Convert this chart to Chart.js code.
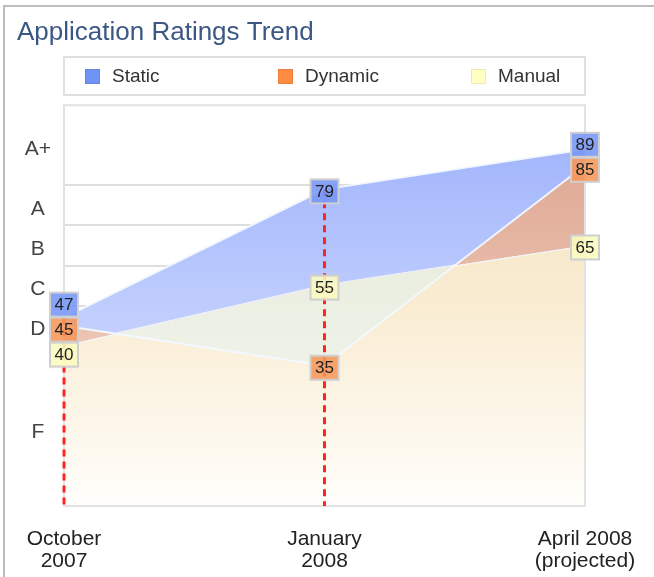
<!DOCTYPE html>
<html>
<head>
<meta charset="utf-8">
<script src="https://cdn.jsdelivr.net/npm/chart.js@4.4.0/dist/chart.umd.min.js"></script>
<style>
  html, body { margin: 0; padding: 0; background: #fff; }
  #wrap { width: 654px; height: 577px; }
</style>
</head>
<body>
<div id="wrap"><canvas id="ratings" width="654" height="577"></canvas></div>
<script>
// --- data ---
const PERIODS = [['October', '2007'], ['January', '2008'], ['April 2008', '(projected)']];
const ACTUAL = [true, true, false];          // projected column gets no drop line
const SERIES = ['Static', 'Dynamic', 'Manual'];
const STATIC_SCORES = [47, 79, 89];
const DYNAMIC_SCORES = [45, 35, 85];
const MANUAL_SCORES = [40, 55, 65];
const GRADE_LABELS = ['F', 'D', 'C', 'B', 'A', 'A+'];
const GRADE_LABEL_AT = [18.5, 44, 54, 64, 74, 89];
const GRADE_BOUNDS = [40, 50, 60, 70, 80];

const LEGEND_COLORS = ['#6f92f6', '#fe8b41', '#ffffc2'];
const BADGE_COLORS = ['rgba(118,150,247,0.88)', 'rgba(246,150,90,0.88)', 'rgba(251,251,190,0.88)'];
const FONT = '"Liberation Sans", Arial, sans-serif';

Chart.defaults.font.family = FONT;

const lineStyle = { borderColor: 'rgba(242,249,255,0.95)', borderWidth: 2, pointRadius: 0, tension: 0 };

// legend, plot frame, drop lines and value badges
const overlays = {
  id: 'overlays',
  beforeDraw(chart) {
    const c = chart.ctx;
    c.save();
    c.strokeStyle = '#bdbdbd';
    c.lineWidth = 2;
    c.beginPath();
    c.moveTo(4, chart.height);
    c.lineTo(4, 6);
    c.lineTo(chart.width, 6);
    c.stroke();
    c.restore();
  },
  afterDatasetsDraw(chart) {
    const a = chart.chartArea, c = chart.ctx;
    c.save();
    c.strokeStyle = '#e2e2e2';
    c.lineWidth = 2;
    c.strokeRect(a.left, a.top, a.right - a.left, a.bottom - a.top);

    // red drop lines at measured periods
    c.setLineDash([7, 5]);
    c.strokeStyle = '#ff2424';
    c.lineWidth = 3;
    ACTUAL.forEach((on, i) => {
      if (!on) return;
      const pts = chart.data.datasets.map((d, k) => chart.getDatasetMeta(k).data[i]);
      const top = Math.min(...pts.map(p => p.y));
      c.beginPath();
      c.moveTo(pts[0].x, top);
      c.lineTo(pts[0].x, a.bottom);
      c.stroke();
    });
    c.setLineDash([]);

    // value badges, stacked when they would overlap
    const GAP = 25;
    PERIODS.forEach((_, i) => {
      const items = chart.data.datasets.map((d, k) => {
        const p = chart.getDatasetMeta(k).data[i];
        return { k, v: d.data[i], x: p.x, y: p.y + 2 };
      }).sort((p, q) => p.y - q.y);
      let groups = items.map(it => ({ members: [it], center: it.y }));
      let merged = true;
      while (merged) {
        merged = false;
        for (let g = 0; g < groups.length - 1; g++) {
          const A = groups[g], B = groups[g + 1];
          const aEnd = A.center + (A.members.length - 1) * GAP / 2;
          const bStart = B.center - (B.members.length - 1) * GAP / 2;
          if (bStart - aEnd < GAP) {
            const members = A.members.concat(B.members);
            const center = members.reduce((s, m) => s + m.y, 0) / members.length - 2;
            groups.splice(g, 2, { members, center });
            merged = true;
            break;
          }
        }
      }
      groups.forEach(G => G.members.forEach((m, j) => {
        const cy = G.center + (j - (G.members.length - 1) / 2) * GAP;
        c.fillStyle = BADGE_COLORS[m.k];
        c.fillRect(m.x - 14, cy - 12, 28, 24);
        c.strokeStyle = '#cfcfcf';
        c.lineWidth = 2;
        c.strokeRect(m.x - 14, cy - 12, 28, 24);
        c.fillStyle = '#222';
        c.font = '17px ' + FONT;
        c.textAlign = 'center';
        c.textBaseline = 'middle';
        c.fillText(String(m.v), m.x, cy + 1);
      }));
    });
    c.restore();
  },
  afterDraw(chart) {
    const a = chart.chartArea, c = chart.ctx;
    c.save();
    c.strokeStyle = '#e0e0e0';
    c.lineWidth = 2;
    c.strokeRect(a.left, 57, a.right - a.left, 38);
    c.font = '19px ' + FONT;
    c.textBaseline = 'middle';
    c.textAlign = 'left';
    chart.data.datasets.forEach((d, k) => {
      const x = 85 + k * 193;
      c.fillStyle = LEGEND_COLORS[k];
      c.fillRect(x, 69, 15, 15);
      c.strokeStyle = 'rgba(0,0,0,0.08)';
      c.lineWidth = 1;
      c.strokeRect(x + 0.5, 69.5, 14, 14);
      c.fillStyle = '#333';
      c.fillText(d.label, x + 27, 77);
    });
    c.restore();
  }
};

const chart = new Chart(document.getElementById('ratings'), {
  type: 'line',
  data: {
    labels: PERIODS,
    datasets: [
      { label: SERIES[0], data: STATIC_SCORES, order: 3, fill: 'origin', backgroundColor: '#a9bafc', ...lineStyle },
      { label: SERIES[1], data: DYNAMIC_SCORES, order: 1, fill: { target: 2, above: '#e2ae98', below: '#e9eee0' }, backgroundColor: '#e2ae98', ...lineStyle },
      { label: SERIES[2], data: MANUAL_SCORES, order: 2, fill: 'origin', backgroundColor: '#f8ead0', ...lineStyle }
    ]
  },
  options: {
    responsive: false,
    animation: false,
    layout: { padding: { left: 17, right: 69, top: 0, bottom: 0 } },
    plugins: {
      legend: { display: false },
      tooltip: { enabled: false },
      title: {
        display: true, text: 'Application Ratings Trend', align: 'start', color: '#3b5784',
        font: { size: 26, weight: 'normal' }, padding: { top: 17, bottom: 57 }
      }
    },
    scales: {
      x: {
        offset: false,
        grid: { display: false },
        border: { display: false },
        ticks: { autoSkip: false, maxRotation: 0, padding: 14, color: '#222', font: { size: 21, lineHeight: 1.05 } },
        afterFit: (s) => { s.height = 71; }
      },
      y: {
        min: 0, max: 100,
        border: { display: false },
        afterBuildTicks: (s) => {
          s.ticks = [...GRADE_BOUNDS, ...GRADE_LABEL_AT].sort((p, q) => p - q).map(v => ({ value: v }));
        },
        grid: {
          drawTicks: false, lineWidth: 2,
          color: (c) => (c.tick && GRADE_BOUNDS.includes(c.tick.value)) ? '#dedede' : 'rgba(0,0,0,0)'
        },
        ticks: {
          autoSkip: false, crossAlign: 'center', padding: 13, color: '#444', font: { size: 21 },
          callback: (v) => { const i = GRADE_LABEL_AT.indexOf(v); return i < 0 ? '' : GRADE_LABELS[i]; }
        },
        afterFit: (s) => { s.width = 47; }
      }
    }
  },
  plugins: [overlays]
});

// vertical gradients need the chart area, so apply them after the first layout
function grad(stops) {
  const a = chart.chartArea;
  const g = chart.ctx.createLinearGradient(0, a.top, 0, a.bottom);
  stops.forEach(([t, col]) => g.addColorStop(t, col));
  return g;
}
const ds = chart.data.datasets;
ds[0].backgroundColor = grad([[0, 'rgb(155,176,251)'], [1, 'rgb(226,232,255)']]);
ds[1].fill = {
  target: 2,
  above: grad([[0, 'rgb(218,160,138)'], [1, 'rgb(250,222,208)']]),
  below: grad([[0, 'rgb(226,232,214)'], [1, 'rgb(246,247,240)']])
};
ds[2].backgroundColor = grad([[0, 'rgb(245,226,186)'], [0.5, 'rgb(249,236,210)'], [1, 'rgb(255,254,251)']]);
chart.update();
</script>
</body>
</html>
